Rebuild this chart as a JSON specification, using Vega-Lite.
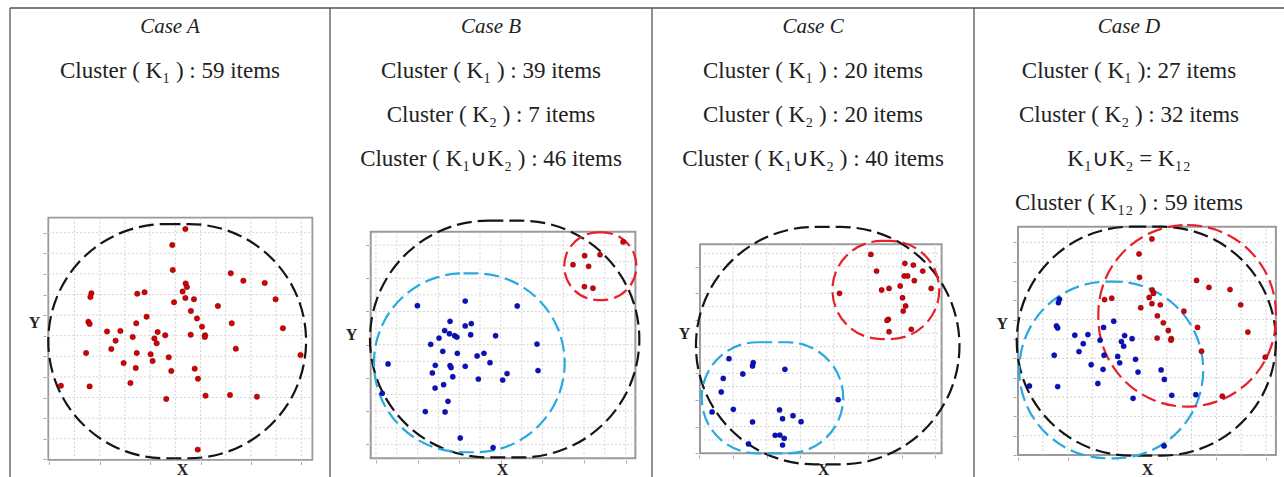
{
  "$schema": "https://vega.github.io/schema/vega-lite/v6.json",
  "background": "white",
  "padding": {"left": 9, "top": 7, "right": 0, "bottom": 0},
  "spacing": 0,
  "bounds": "flush",
  "config": {
    "view": {"stroke": null},
    "axis": {"grid": false, "labels": false, "domain": false, "ticks": true, "tickColor": "#a8a8a8", "tickSize": 3, "tickWidth": 1, "titleFont": "Liberation Serif", "titleFontSize": 16, "titleFontWeight": "bold", "titleColor": "#222222", "titlePadding": 0},
    "axisX": {"titleBaseline": "alphabetic", "titleAlign": "center"},
    "axisY": {"titleAngle": 0, "titleBaseline": "middle", "titleAlign": "center"}
  },
  "resolve": {"scale": {"fill": "independent", "stroke": "independent"}},
  "datasets": {
    "points": [
      {"panel":"A","cluster":"K1","x":5.40,"y":11.18},{"panel":"A","cluster":"K1","x":4.88,"y":10.40},{"panel":"A","cluster":"K1","x":4.90,"y":9.19},{"panel":"A","cluster":"K1","x":7.20,"y":9.03},{"panel":"A","cluster":"K1","x":7.70,"y":8.67},{"panel":"A","cluster":"K1","x":8.55,"y":8.56},{"panel":"A","cluster":"K1","x":5.41,"y":8.54},{"panel":"A","cluster":"K1","x":5.46,"y":8.36},{"panel":"A","cluster":"K1","x":5.29,"y":8.15},{"panel":"A","cluster":"K1","x":5.40,"y":7.83},
      {"panel":"A","cluster":"K1","x":5.74,"y":7.77},{"panel":"A","cluster":"K1","x":4.95,"y":7.62},{"panel":"A","cluster":"K1","x":1.67,"y":8.06},{"panel":"A","cluster":"K1","x":1.63,"y":7.88},{"panel":"A","cluster":"K1","x":3.49,"y":8.04},{"panel":"A","cluster":"K1","x":3.78,"y":8.11},{"panel":"A","cluster":"K1","x":6.69,"y":7.44},{"panel":"A","cluster":"K1","x":8.98,"y":7.77},{"panel":"A","cluster":"K1","x":5.62,"y":7.20},{"panel":"A","cluster":"K1","x":3.86,"y":6.92},
      {"panel":"A","cluster":"K1","x":1.55,"y":6.68},{"panel":"A","cluster":"K1","x":1.60,"y":6.57},{"panel":"A","cluster":"K1","x":5.86,"y":6.84},{"panel":"A","cluster":"K1","x":3.45,"y":6.60},{"panel":"A","cluster":"K1","x":7.24,"y":6.60},{"panel":"A","cluster":"K1","x":6.06,"y":6.44},{"panel":"A","cluster":"K1","x":9.27,"y":6.36},{"panel":"A","cluster":"K1","x":2.29,"y":6.20},{"panel":"A","cluster":"K1","x":2.82,"y":6.23},{"panel":"A","cluster":"K1","x":4.30,"y":6.18},
      {"panel":"A","cluster":"K1","x":5.61,"y":6.05},{"panel":"A","cluster":"K1","x":4.60,"y":6.02},{"panel":"A","cluster":"K1","x":6.18,"y":6.02},{"panel":"A","cluster":"K1","x":6.17,"y":5.94},{"panel":"A","cluster":"K1","x":3.31,"y":5.94},{"panel":"A","cluster":"K1","x":4.17,"y":5.87},{"panel":"A","cluster":"K1","x":2.63,"y":5.76},{"panel":"A","cluster":"K1","x":4.26,"y":5.63},{"panel":"A","cluster":"K1","x":2.46,"y":5.35},{"panel":"A","cluster":"K1","x":7.40,"y":5.37},
      {"panel":"A","cluster":"K1","x":1.46,"y":5.16},{"panel":"A","cluster":"K1","x":3.47,"y":5.16},{"panel":"A","cluster":"K1","x":4.02,"y":5.10},{"panel":"A","cluster":"K1","x":9.97,"y":5.06},{"panel":"A","cluster":"K1","x":4.74,"y":4.95},{"panel":"A","cluster":"K1","x":4.10,"y":4.77},{"panel":"A","cluster":"K1","x":2.95,"y":4.67},{"panel":"A","cluster":"K1","x":3.43,"y":4.43},{"panel":"A","cluster":"K1","x":5.77,"y":4.40},{"panel":"A","cluster":"K1","x":4.84,"y":4.29},
      {"panel":"A","cluster":"K1","x":5.90,"y":3.91},{"panel":"A","cluster":"K1","x":3.22,"y":3.70},{"panel":"A","cluster":"K1","x":0.46,"y":3.57},{"panel":"A","cluster":"K1","x":1.60,"y":3.54},{"panel":"A","cluster":"K1","x":6.20,"y":3.09},{"panel":"A","cluster":"K1","x":7.17,"y":3.12},{"panel":"A","cluster":"K1","x":8.24,"y":3.04},{"panel":"A","cluster":"K1","x":4.64,"y":2.93},{"panel":"A","cluster":"K1","x":5.89,"y":0.47},

      {"panel":"B","cluster":"K1","x":4.29,"y":8.63},{"panel":"B","cluster":"K1","x":1.99,"y":8.35},{"panel":"B","cluster":"K1","x":6.79,"y":8.33},{"panel":"B","cluster":"K1","x":3.56,"y":7.41},{"panel":"B","cluster":"K1","x":4.29,"y":7.13},{"panel":"B","cluster":"K1","x":4.58,"y":7.27},{"panel":"B","cluster":"K1","x":3.30,"y":6.85},{"panel":"B","cluster":"K1","x":3.53,"y":6.66},{"panel":"B","cluster":"K1","x":4.55,"y":6.60},{"panel":"B","cluster":"K1","x":3.78,"y":6.54},
      {"panel":"B","cluster":"K1","x":3.89,"y":6.46},{"panel":"B","cluster":"K1","x":3.03,"y":6.40},{"panel":"B","cluster":"K1","x":5.75,"y":6.54},{"panel":"B","cluster":"K1","x":2.63,"y":6.02},{"panel":"B","cluster":"K1","x":7.74,"y":6.04},{"panel":"B","cluster":"K1","x":3.21,"y":5.60},{"panel":"B","cluster":"K1","x":3.91,"y":5.48},{"panel":"B","cluster":"K1","x":4.86,"y":5.32},{"panel":"B","cluster":"K1","x":5.19,"y":5.48},{"panel":"B","cluster":"K1","x":5.48,"y":4.92},
      {"panel":"B","cluster":"K1","x":0.58,"y":4.84},{"panel":"B","cluster":"K1","x":2.85,"y":4.76},{"panel":"B","cluster":"K1","x":3.56,"y":4.74},{"panel":"B","cluster":"K1","x":3.61,"y":4.62},{"panel":"B","cluster":"K1","x":4.29,"y":4.70},{"panel":"B","cluster":"K1","x":2.71,"y":4.30},{"panel":"B","cluster":"K1","x":3.69,"y":4.07},{"panel":"B","cluster":"K1","x":6.30,"y":4.26},{"panel":"B","cluster":"K1","x":7.79,"y":4.44},{"panel":"B","cluster":"K1","x":4.92,"y":3.93},
      {"panel":"B","cluster":"K1","x":6.09,"y":3.87},{"panel":"B","cluster":"K1","x":2.84,"y":3.39},{"panel":"B","cluster":"K1","x":3.25,"y":3.59},{"panel":"B","cluster":"K1","x":3.46,"y":2.59},{"panel":"B","cluster":"K1","x":2.37,"y":1.97},{"panel":"B","cluster":"K1","x":3.32,"y":1.95},{"panel":"B","cluster":"K1","x":0.30,"y":3.07},{"panel":"B","cluster":"K1","x":4.05,"y":0.38},{"panel":"B","cluster":"K1","x":5.63,"y":-0.20},
      {"panel":"B","cluster":"K2","x":11.88,"y":12.19},{"panel":"B","cluster":"K2","x":10.03,"y":11.36},{"panel":"B","cluster":"K2","x":10.77,"y":11.42},{"panel":"B","cluster":"K2","x":9.47,"y":10.82},{"panel":"B","cluster":"K2","x":10.22,"y":10.72},{"panel":"B","cluster":"K2","x":10.02,"y":9.50},{"panel":"B","cluster":"K2","x":10.43,"y":9.40},

      {"panel":"C","cluster":"K2","x":5.09,"y":14.92},{"panel":"C","cluster":"K2","x":5.26,"y":13.67},{"panel":"C","cluster":"K2","x":6.10,"y":14.25},{"panel":"C","cluster":"K2","x":6.35,"y":14.12},{"panel":"C","cluster":"K2","x":6.63,"y":13.67},{"panel":"C","cluster":"K2","x":6.08,"y":13.30},{"panel":"C","cluster":"K2","x":6.18,"y":13.30},{"panel":"C","cluster":"K2","x":6.38,"y":12.95},{"panel":"C","cluster":"K2","x":5.96,"y":12.55},{"panel":"C","cluster":"K2","x":5.41,"y":12.25},
      {"panel":"C","cluster":"K2","x":5.63,"y":12.37},{"panel":"C","cluster":"K2","x":6.88,"y":12.37},{"panel":"C","cluster":"K2","x":4.16,"y":12.00},{"panel":"C","cluster":"K2","x":6.03,"y":11.67},{"panel":"C","cluster":"K2","x":6.12,"y":11.05},{"panel":"C","cluster":"K2","x":6.05,"y":10.67},{"panel":"C","cluster":"K2","x":5.61,"y":10.05},{"panel":"C","cluster":"K2","x":5.57,"y":9.97},{"panel":"C","cluster":"K2","x":5.63,"y":9.12},{"panel":"C","cluster":"K2","x":6.29,"y":9.30},
      {"panel":"C","cluster":"K1","x":0.88,"y":7.10},{"panel":"C","cluster":"K1","x":1.60,"y":6.80},{"panel":"C","cluster":"K1","x":1.58,"y":6.55},{"panel":"C","cluster":"K1","x":1.29,"y":5.95},{"panel":"C","cluster":"K1","x":2.54,"y":6.30},{"panel":"C","cluster":"K1","x":0.71,"y":5.62},{"panel":"C","cluster":"K1","x":0.65,"y":4.60},{"panel":"C","cluster":"K1","x":4.12,"y":4.02},{"panel":"C","cluster":"K1","x":1.01,"y":3.30},{"panel":"C","cluster":"K1","x":2.38,"y":3.25},
      {"panel":"C","cluster":"K1","x":0.38,"y":3.10},{"panel":"C","cluster":"K1","x":2.47,"y":2.60},{"panel":"C","cluster":"K1","x":2.78,"y":2.82},{"panel":"C","cluster":"K1","x":3.02,"y":2.37},{"panel":"C","cluster":"K1","x":1.58,"y":2.35},{"panel":"C","cluster":"K1","x":2.25,"y":1.35},{"panel":"C","cluster":"K1","x":2.39,"y":1.37},{"panel":"C","cluster":"K1","x":2.52,"y":1.12},{"panel":"C","cluster":"K1","x":1.46,"y":0.70},{"panel":"C","cluster":"K1","x":2.47,"y":0.62},

      {"panel":"D","cluster":"K1","x":5.40,"y":11.18},{"panel":"D","cluster":"K1","x":4.88,"y":10.40},{"panel":"D","cluster":"K1","x":4.90,"y":9.19},{"panel":"D","cluster":"K1","x":7.20,"y":9.03},{"panel":"D","cluster":"K1","x":7.70,"y":8.67},{"panel":"D","cluster":"K1","x":8.55,"y":8.56},{"panel":"D","cluster":"K1","x":5.41,"y":8.54},{"panel":"D","cluster":"K1","x":5.46,"y":8.36},{"panel":"D","cluster":"K1","x":5.29,"y":8.15},{"panel":"D","cluster":"K1","x":5.40,"y":7.83},
      {"panel":"D","cluster":"K1","x":5.74,"y":7.77},{"panel":"D","cluster":"K1","x":4.95,"y":7.62},{"panel":"D","cluster":"K2","x":1.67,"y":8.06},{"panel":"D","cluster":"K2","x":1.63,"y":7.88},{"panel":"D","cluster":"K1","x":3.49,"y":8.04},{"panel":"D","cluster":"K1","x":3.78,"y":8.11},{"panel":"D","cluster":"K1","x":6.69,"y":7.44},{"panel":"D","cluster":"K1","x":8.98,"y":7.77},{"panel":"D","cluster":"K1","x":5.62,"y":7.20},{"panel":"D","cluster":"K2","x":3.86,"y":6.92},
      {"panel":"D","cluster":"K2","x":1.55,"y":6.68},{"panel":"D","cluster":"K2","x":1.60,"y":6.57},{"panel":"D","cluster":"K1","x":5.86,"y":6.84},{"panel":"D","cluster":"K2","x":3.45,"y":6.60},{"panel":"D","cluster":"K1","x":7.24,"y":6.60},{"panel":"D","cluster":"K1","x":6.06,"y":6.44},{"panel":"D","cluster":"K1","x":9.27,"y":6.36},{"panel":"D","cluster":"K2","x":2.29,"y":6.20},{"panel":"D","cluster":"K2","x":2.82,"y":6.23},{"panel":"D","cluster":"K2","x":4.30,"y":6.18},
      {"panel":"D","cluster":"K1","x":5.61,"y":6.05},{"panel":"D","cluster":"K2","x":4.60,"y":6.02},{"panel":"D","cluster":"K1","x":6.18,"y":6.02},{"panel":"D","cluster":"K1","x":6.17,"y":5.94},{"panel":"D","cluster":"K2","x":3.31,"y":5.94},{"panel":"D","cluster":"K2","x":4.17,"y":5.87},{"panel":"D","cluster":"K2","x":2.63,"y":5.76},{"panel":"D","cluster":"K2","x":4.26,"y":5.63},{"panel":"D","cluster":"K2","x":2.46,"y":5.35},{"panel":"D","cluster":"K1","x":7.40,"y":5.37},
      {"panel":"D","cluster":"K2","x":1.46,"y":5.16},{"panel":"D","cluster":"K2","x":3.47,"y":5.16},{"panel":"D","cluster":"K2","x":4.02,"y":5.10},{"panel":"D","cluster":"K1","x":9.97,"y":5.06},{"panel":"D","cluster":"K2","x":4.74,"y":4.95},{"panel":"D","cluster":"K2","x":4.10,"y":4.77},{"panel":"D","cluster":"K2","x":2.95,"y":4.67},{"panel":"D","cluster":"K2","x":3.43,"y":4.43},{"panel":"D","cluster":"K2","x":5.77,"y":4.40},{"panel":"D","cluster":"K2","x":4.84,"y":4.29},
      {"panel":"D","cluster":"K2","x":5.90,"y":3.91},{"panel":"D","cluster":"K2","x":3.22,"y":3.70},{"panel":"D","cluster":"K2","x":0.46,"y":3.57},{"panel":"D","cluster":"K2","x":1.60,"y":3.54},{"panel":"D","cluster":"K2","x":6.20,"y":3.09},{"panel":"D","cluster":"K2","x":7.17,"y":3.12},{"panel":"D","cluster":"K1","x":8.24,"y":3.04},{"panel":"D","cluster":"K2","x":4.64,"y":2.93},{"panel":"D","cluster":"K2","x":5.89,"y":0.47}
    ],
    "ellipses": [
      {"panel":"A","cluster":"K1","x1":-0.04,"x2":10.19,"y1":0.05,"y2":11.42},
      {"panel":"B","cluster":"K1∪K2","x1":-0.29,"x2":12.66,"y1":-0.79,"y2":13.47},
      {"panel":"B","cluster":"K1","x1":-0.10,"x2":9.07,"y1":-0.48,"y2":10.30},
      {"panel":"B","cluster":"K2","x1":9.05,"x2":12.52,"y1":8.69,"y2":12.77},
      {"panel":"C","cluster":"K1∪K2","x1":-0.10,"x2":7.72,"y1":-0.83,"y2":16.98},
      {"panel":"C","cluster":"K1","x1":0.07,"x2":4.27,"y1":0.0,"y2":8.33},
      {"panel":"C","cluster":"K2","x1":3.95,"x2":7.12,"y1":8.57,"y2":15.93},
      {"panel":"D","cluster":"K12","x1":-0.05,"x2":10.40,"y1":-0.03,"y2":11.81},
      {"panel":"D","cluster":"K2","x1":0.05,"x2":7.47,"y1":-0.17,"y2":8.97},
      {"panel":"D","cluster":"K1","x1":3.24,"x2":10.40,"y1":2.50,"y2":11.90}
    ],
    "labels": [
      {"panel":"A","line":0,"label":"Case A"},
      {"panel":"A","line":1,"label":"Cluster ( K₁ ) : 59 items"},
      {"panel":"B","line":0,"label":"Case B"},
      {"panel":"B","line":1,"label":"Cluster ( K₁ ) : 39 items"},
      {"panel":"B","line":2,"label":"Cluster ( K₂ ) : 7 items"},
      {"panel":"B","line":3,"label":"Cluster ( K₁∪K₂ ) : 46 items"},
      {"panel":"C","line":0,"label":"Case C"},
      {"panel":"C","line":1,"label":"Cluster ( K₁ ) : 20 items"},
      {"panel":"C","line":2,"label":"Cluster ( K₂ ) : 20 items"},
      {"panel":"C","line":3,"label":"Cluster ( K₁∪K₂ ) : 40 items"},
      {"panel":"D","line":0,"label":"Case D"},
      {"panel":"D","line":1,"label":"Cluster ( K₁ ): 27 items"},
      {"panel":"D","line":2,"label":"Cluster ( K₂ ) : 32 items"},
      {"panel":"D","line":3,"label":"K₁∪K₂ = K₁₂"},
      {"panel":"D","line":4,"label":"Cluster ( K₁₂ ) : 59 items"}
    ],
    "grid": [
      {"panel":"A","dir":"x","v":1},{"panel":"A","dir":"x","v":2},{"panel":"A","dir":"x","v":3},{"panel":"A","dir":"x","v":4},{"panel":"A","dir":"x","v":5},{"panel":"A","dir":"x","v":6},{"panel":"A","dir":"x","v":7},{"panel":"A","dir":"x","v":8},{"panel":"A","dir":"x","v":9},{"panel":"A","dir":"x","v":10},
      {"panel":"A","dir":"y","v":1},{"panel":"A","dir":"y","v":2},{"panel":"A","dir":"y","v":3},{"panel":"A","dir":"y","v":4},{"panel":"A","dir":"y","v":5},{"panel":"A","dir":"y","v":6},{"panel":"A","dir":"y","v":7},{"panel":"A","dir":"y","v":8},{"panel":"A","dir":"y","v":9},{"panel":"A","dir":"y","v":10},{"panel":"A","dir":"y","v":11},
      {"panel":"B","dir":"x","v":0},{"panel":"B","dir":"x","v":1},{"panel":"B","dir":"x","v":2},{"panel":"B","dir":"x","v":3},{"panel":"B","dir":"x","v":4},{"panel":"B","dir":"x","v":5},{"panel":"B","dir":"x","v":6},{"panel":"B","dir":"x","v":7},{"panel":"B","dir":"x","v":8},{"panel":"B","dir":"x","v":9},{"panel":"B","dir":"x","v":10},{"panel":"B","dir":"x","v":11},{"panel":"B","dir":"x","v":12},
      {"panel":"B","dir":"y","v":0},{"panel":"B","dir":"y","v":1},{"panel":"B","dir":"y","v":2},{"panel":"B","dir":"y","v":3},{"panel":"B","dir":"y","v":4},{"panel":"B","dir":"y","v":5},{"panel":"B","dir":"y","v":6},{"panel":"B","dir":"y","v":7},{"panel":"B","dir":"y","v":8},{"panel":"B","dir":"y","v":9},{"panel":"B","dir":"y","v":10},{"panel":"B","dir":"y","v":11},{"panel":"B","dir":"y","v":12},
      {"panel":"C","dir":"x","v":1},{"panel":"C","dir":"x","v":2},{"panel":"C","dir":"x","v":3},{"panel":"C","dir":"x","v":4},{"panel":"C","dir":"x","v":5},{"panel":"C","dir":"x","v":6},{"panel":"C","dir":"x","v":7},
      {"panel":"C","dir":"y","v":1},{"panel":"C","dir":"y","v":2},{"panel":"C","dir":"y","v":3},{"panel":"C","dir":"y","v":4},{"panel":"C","dir":"y","v":5},{"panel":"C","dir":"y","v":6},{"panel":"C","dir":"y","v":7},{"panel":"C","dir":"y","v":8},{"panel":"C","dir":"y","v":9},{"panel":"C","dir":"y","v":10},{"panel":"C","dir":"y","v":11},{"panel":"C","dir":"y","v":12},{"panel":"C","dir":"y","v":13},{"panel":"C","dir":"y","v":14},{"panel":"C","dir":"y","v":15},
      {"panel":"D","dir":"x","v":1},{"panel":"D","dir":"x","v":2},{"panel":"D","dir":"x","v":3},{"panel":"D","dir":"x","v":4},{"panel":"D","dir":"x","v":5},{"panel":"D","dir":"x","v":6},{"panel":"D","dir":"x","v":7},{"panel":"D","dir":"x","v":8},{"panel":"D","dir":"x","v":9},{"panel":"D","dir":"x","v":10},
      {"panel":"D","dir":"y","v":1},{"panel":"D","dir":"y","v":2},{"panel":"D","dir":"y","v":3},{"panel":"D","dir":"y","v":4},{"panel":"D","dir":"y","v":5},{"panel":"D","dir":"y","v":6},{"panel":"D","dir":"y","v":7},{"panel":"D","dir":"y","v":8},{"panel":"D","dir":"y","v":9},{"panel":"D","dir":"y","v":10},{"panel":"D","dir":"y","v":11}
    ]
  },
  "hconcat": [
    {
      "width": 320, "height": 469,
      "resolve": {"scale": {"y": "independent"}},
      "layer": [
        {"layer": [
          {"data": {"values": [{}]}, "mark": {"type": "rect", "filled": false, "color": "#9a9a9a", "strokeWidth": 1.8},
           "encoding": {
             "x": {"datum": -0.04, "type": "quantitative", "scale": {"domain": [-1.560, 11.139], "nice": false, "zero": false}, "axis": {"values": [0,1,2,3,4,5,6,7,8,9,10], "offset": -15.5, "title": "X", "titleX": 172, "titleY": 12.5}},
             "x2": {"datum": 10.44},
             "y": {"datum": -0.03, "type": "quantitative", "scale": {"domain": [-0.859, 21.908], "nice": false, "zero": false}, "axis": {"values": [0,1,2,3,4,5,6,7,8,9,10,11], "offset": -36, "title": "Y", "titleX": -12, "titleY": 314}},
             "y2": {"datum": 11.73}}},
          {"data": {"name": "grid"}, "transform": [{"filter": "datum.panel === 'A' && datum.dir === 'x'"}], "mark": {"type": "rule", "color": "#d2d2d2", "strokeWidth": 1, "strokeDash": [2, 2]},
           "encoding": {"x": {"field": "v", "type": "quantitative", "title": "X"}, "y": {"datum": -0.03, "type": "quantitative", "title": "Y"}, "y2": {"datum": 11.73}}},
          {"data": {"name": "grid"}, "transform": [{"filter": "datum.panel === 'A' && datum.dir === 'y'"}], "mark": {"type": "rule", "color": "#d2d2d2", "strokeWidth": 1, "strokeDash": [2, 2]},
           "encoding": {"y": {"field": "v", "type": "quantitative", "title": "Y"}, "x": {"datum": -0.04, "type": "quantitative", "title": "X"}, "x2": {"datum": 10.44}}},
          {"data": {"name": "ellipses"}, "transform": [{"filter": "datum.panel === 'A'"}], "mark": {"type": "rect", "filled": false, "cornerRadius": 9999, "strokeWidth": 2.2, "strokeDash": [15, 6]},
           "encoding": {"x": {"field": "x1", "type": "quantitative", "title": "X"}, "x2": {"field": "x2"}, "y": {"field": "y1", "type": "quantitative", "title": "Y"}, "y2": {"field": "y2"},
                        "stroke": {"field": "cluster", "type": "nominal", "scale": {"domain": ["K1"], "range": ["#151515"]}, "legend": null}}},
          {"data": {"name": "points"}, "transform": [{"filter": "datum.panel === 'A'"}], "mark": {"type": "point", "filled": true, "size": 30, "opacity": 1, "stroke": "rgba(60,0,0,0.6)", "strokeWidth": 0.6},
           "encoding": {
             "x": {"field": "x", "type": "quantitative", "title": "X"},
             "y": {"field": "y", "type": "quantitative", "title": "Y"},
             "fill": {"field": "cluster", "type": "nominal", "scale": {"domain": ["K1"], "range": ["#d80000"]}, "legend": null}}},
          {"data": {"values": [{}]}, "mark": {"type": "rule", "color": "#555555", "strokeWidth": 1.3}, "encoding": {"x": {"datum": -1.560, "type": "quantitative", "title": "X"}}},
          {"data": {"values": [{}]}, "mark": {"type": "rule", "color": "#555555", "strokeWidth": 1.3}, "encoding": {"y": {"datum": 21.908, "type": "quantitative", "title": "Y"}}}
        ]},
        {"data": {"name": "labels"}, "transform": [{"filter": "datum.panel === 'A'"}],
         "layer": [
           {"transform": [{"filter": "datum.line === 0"}], "mark": {"type": "text", "font": "Liberation Serif", "fontStyle": "italic", "fontSize": 21, "color": "#222222", "baseline": "middle"},
            "encoding": {"y": {"field": "line", "type": "quantitative", "scale": {"domain": [0, 4], "range": [19, 195]}, "axis": null}, "text": {"field": "label"}}},
           {"transform": [{"filter": "datum.line > 0"}], "mark": {"type": "text", "font": "Liberation Serif", "fontSize": 23, "color": "#222222", "baseline": "middle"},
            "encoding": {"y": {"field": "line", "type": "quantitative", "axis": null}, "text": {"field": "label"}}}
         ]}
      ]
    },
    {
      "width": 322, "height": 469,
      "resolve": {"scale": {"y": "independent"}},
      "layer": [
        {"layer": [
          {"data": {"values": [{}]}, "mark": {"type": "rect", "filled": false, "color": "#9a9a9a", "strokeWidth": 2},
           "encoding": {
             "x": {"datum": -0.255, "type": "quantitative", "scale": {"domain": [-2.212, 13.269], "nice": false, "zero": false}, "axis": {"values": [0,1,2,3,4,5,6,7,8,9,10,11,12], "offset": -17, "title": "X", "titleX": 172, "titleY": 14}},
             "x2": {"datum": 12.47},
             "y": {"datum": -0.84, "type": "quantitative", "scale": {"domain": [-1.970, 26.283], "nice": false, "zero": false}, "axis": {"values": [0,1,2,3,4,5,6,7,8,9,10,11,12], "offset": -38.5, "title": "Y", "titleX": -17.5, "titleY": 326}},
             "y2": {"datum": 12.81}}},
          {"data": {"name": "grid"}, "transform": [{"filter": "datum.panel === 'B' && datum.dir === 'x'"}], "mark": {"type": "rule", "color": "#d2d2d2", "strokeWidth": 1, "strokeDash": [2, 2]},
           "encoding": {"x": {"field": "v", "type": "quantitative", "title": "X"}, "y": {"datum": -0.84, "type": "quantitative", "title": "Y"}, "y2": {"datum": 12.81}}},
          {"data": {"name": "grid"}, "transform": [{"filter": "datum.panel === 'B' && datum.dir === 'y'"}], "mark": {"type": "rule", "color": "#d2d2d2", "strokeWidth": 1, "strokeDash": [2, 2]},
           "encoding": {"y": {"field": "v", "type": "quantitative", "title": "Y"}, "x": {"datum": -0.255, "type": "quantitative", "title": "X"}, "x2": {"datum": 12.47}}},
          {"data": {"name": "ellipses"}, "transform": [{"filter": "datum.panel === 'B'"}], "mark": {"type": "rect", "filled": false, "cornerRadius": 9999, "strokeWidth": 2.2, "strokeDash": [15, 6]},
           "encoding": {"x": {"field": "x1", "type": "quantitative", "title": "X"}, "x2": {"field": "x2"}, "y": {"field": "y1", "type": "quantitative", "title": "Y"}, "y2": {"field": "y2"},
                        "stroke": {"field": "cluster", "type": "nominal", "scale": {"domain": ["K1", "K2", "K1∪K2"], "range": ["#2aa8e0", "#e8202a", "#151515"]}, "legend": null}}},
          {"data": {"name": "points"}, "transform": [{"filter": "datum.panel === 'B'"}], "mark": {"type": "point", "filled": true, "size": 28, "opacity": 1, "stroke": "rgba(0,0,40,0.5)", "strokeWidth": 0.6},
           "encoding": {
             "x": {"field": "x", "type": "quantitative", "title": "X"},
             "y": {"field": "y", "type": "quantitative", "title": "Y"},
             "fill": {"field": "cluster", "type": "nominal", "scale": {"domain": ["K1", "K2"], "range": ["#0a10c8", "#d80000"]}, "legend": null}}},
          {"data": {"values": [{}]}, "mark": {"type": "rule", "color": "#555555", "strokeWidth": 1.3}, "encoding": {"x": {"datum": -2.212, "type": "quantitative", "title": "X"}}},
          {"data": {"values": [{}]}, "mark": {"type": "rule", "color": "#555555", "strokeWidth": 1.3}, "encoding": {"y": {"datum": 26.283, "type": "quantitative", "title": "Y"}}}
        ]},
        {"data": {"name": "labels"}, "transform": [{"filter": "datum.panel === 'B'"}],
         "layer": [
           {"transform": [{"filter": "datum.line === 0"}], "mark": {"type": "text", "font": "Liberation Serif", "fontStyle": "italic", "fontSize": 21, "color": "#222222", "baseline": "middle"},
            "encoding": {"y": {"field": "line", "type": "quantitative", "scale": {"domain": [0, 4], "range": [19, 195]}, "axis": null}, "text": {"field": "label"}}},
           {"transform": [{"filter": "datum.line > 0"}], "mark": {"type": "text", "font": "Liberation Serif", "fontSize": 23, "color": "#222222", "baseline": "middle"},
            "encoding": {"y": {"field": "line", "type": "quantitative", "axis": null}, "text": {"field": "label"}}}
         ]}
      ]
    },
    {
      "width": 322, "height": 469,
      "resolve": {"scale": {"y": "independent"}},
      "layer": [
        {"layer": [
          {"data": {"values": [{}]}, "mark": {"type": "rect", "filled": false, "color": "#9a9a9a", "strokeWidth": 2},
           "encoding": {
             "x": {"datum": 0.02, "type": "quantitative", "scale": {"domain": [-1.404, 8.151], "nice": false, "zero": false}, "axis": {"values": [0,1,2,3,4,5,6,7], "offset": -22, "title": "X", "titleX": 171, "titleY": 19}},
             "x2": {"datum": 7.19},
             "y": {"datum": 0, "type": "quantitative", "scale": {"domain": [-1.778, 33.406], "nice": false, "zero": false}, "axis": {"values": [0,1,2,3,4,5,6,7,8,9,10,11,12,13,14,15], "offset": -46, "title": "Y", "titleX": -14, "titleY": 325}},
             "y2": {"datum": 15.68}}},
          {"data": {"name": "grid"}, "transform": [{"filter": "datum.panel === 'C' && datum.dir === 'x'"}], "mark": {"type": "rule", "color": "#d2d2d2", "strokeWidth": 1, "strokeDash": [2, 2]},
           "encoding": {"x": {"field": "v", "type": "quantitative", "title": "X"}, "y": {"datum": 0, "type": "quantitative", "title": "Y"}, "y2": {"datum": 15.68}}},
          {"data": {"name": "grid"}, "transform": [{"filter": "datum.panel === 'C' && datum.dir === 'y'"}], "mark": {"type": "rule", "color": "#d2d2d2", "strokeWidth": 1, "strokeDash": [2, 2]},
           "encoding": {"y": {"field": "v", "type": "quantitative", "title": "Y"}, "x": {"datum": 0.02, "type": "quantitative", "title": "X"}, "x2": {"datum": 7.19}}},
          {"data": {"name": "ellipses"}, "transform": [{"filter": "datum.panel === 'C'"}], "mark": {"type": "rect", "filled": false, "cornerRadius": 9999, "strokeWidth": 2.2, "strokeDash": [15, 6]},
           "encoding": {"x": {"field": "x1", "type": "quantitative", "title": "X"}, "x2": {"field": "x2"}, "y": {"field": "y1", "type": "quantitative", "title": "Y"}, "y2": {"field": "y2"},
                        "stroke": {"field": "cluster", "type": "nominal", "scale": {"domain": ["K1", "K2", "K1∪K2"], "range": ["#2aa8e0", "#e8202a", "#151515"]}, "legend": null}}},
          {"data": {"name": "points"}, "transform": [{"filter": "datum.panel === 'C'"}], "mark": {"type": "point", "filled": true, "size": 28, "opacity": 1, "stroke": "rgba(0,0,40,0.5)", "strokeWidth": 0.6},
           "encoding": {
             "x": {"field": "x", "type": "quantitative", "title": "X"},
             "y": {"field": "y", "type": "quantitative", "title": "Y"},
             "fill": {"field": "cluster", "type": "nominal", "scale": {"domain": ["K1", "K2"], "range": ["#0a10c8", "#d80000"]}, "legend": null}}},
          {"data": {"values": [{}]}, "mark": {"type": "rule", "color": "#555555", "strokeWidth": 1.3}, "encoding": {"x": {"datum": -1.404, "type": "quantitative", "title": "X"}}},
          {"data": {"values": [{}]}, "mark": {"type": "rule", "color": "#555555", "strokeWidth": 1.3}, "encoding": {"y": {"datum": 33.406, "type": "quantitative", "title": "Y"}}}
        ]},
        {"data": {"name": "labels"}, "transform": [{"filter": "datum.panel === 'C'"}],
         "layer": [
           {"transform": [{"filter": "datum.line === 0"}], "mark": {"type": "text", "font": "Liberation Serif", "fontStyle": "italic", "fontSize": 21, "color": "#222222", "baseline": "middle"},
            "encoding": {"y": {"field": "line", "type": "quantitative", "scale": {"domain": [0, 4], "range": [19, 195]}, "axis": null}, "text": {"field": "label"}}},
           {"transform": [{"filter": "datum.line > 0"}], "mark": {"type": "text", "font": "Liberation Serif", "fontSize": 23, "color": "#222222", "baseline": "middle"},
            "encoding": {"y": {"field": "line", "type": "quantitative", "axis": null}, "text": {"field": "label"}}}
         ]}
      ]
    },
    {
      "width": 310, "height": 469,
      "resolve": {"scale": {"y": "independent"}},
      "layer": [
        {"layer": [
          {"data": {"values": [{}]}, "mark": {"type": "rect", "filled": false, "color": "#9a9a9a", "strokeWidth": 2},
           "encoding": {
             "x": {"datum": 0, "type": "quantitative", "scale": {"domain": [-1.774, 10.726], "nice": false, "zero": false}, "axis": {"values": [0,1,2,3,4,5,6,7,8,9,10], "offset": -20, "title": "X", "titleX": 173, "titleY": 17}},
             "x2": {"datum": 10.40},
             "y": {"datum": 0, "type": "quantitative", "scale": {"domain": [-1.138, 23.125], "nice": false, "zero": false}, "axis": {"values": [0,1,2,3,4,5,6,7,8,9,10,11], "offset": -42, "title": "Y", "titleX": -14.3, "titleY": 315}},
             "y2": {"datum": 11.81}}},
          {"data": {"name": "grid"}, "transform": [{"filter": "datum.panel === 'D' && datum.dir === 'x'"}], "mark": {"type": "rule", "color": "#d2d2d2", "strokeWidth": 1, "strokeDash": [2, 2]},
           "encoding": {"x": {"field": "v", "type": "quantitative", "title": "X"}, "y": {"datum": 0, "type": "quantitative", "title": "Y"}, "y2": {"datum": 11.81}}},
          {"data": {"name": "grid"}, "transform": [{"filter": "datum.panel === 'D' && datum.dir === 'y'"}], "mark": {"type": "rule", "color": "#d2d2d2", "strokeWidth": 1, "strokeDash": [2, 2]},
           "encoding": {"y": {"field": "v", "type": "quantitative", "title": "Y"}, "x": {"datum": 0, "type": "quantitative", "title": "X"}, "x2": {"datum": 10.40}}},
          {"data": {"name": "ellipses"}, "transform": [{"filter": "datum.panel === 'D'"}], "mark": {"type": "rect", "filled": false, "cornerRadius": 9999, "strokeWidth": 2.2, "strokeDash": [15, 6]},
           "encoding": {"x": {"field": "x1", "type": "quantitative", "title": "X"}, "x2": {"field": "x2"}, "y": {"field": "y1", "type": "quantitative", "title": "Y"}, "y2": {"field": "y2"},
                        "stroke": {"field": "cluster", "type": "nominal", "scale": {"domain": ["K1", "K2", "K12"], "range": ["#e8202a", "#2aa8e0", "#151515"]}, "legend": null}}},
          {"data": {"name": "points"}, "transform": [{"filter": "datum.panel === 'D'"}], "mark": {"type": "point", "filled": true, "size": 28, "opacity": 1, "stroke": "rgba(0,0,40,0.5)", "strokeWidth": 0.6},
           "encoding": {
             "x": {"field": "x", "type": "quantitative", "title": "X"},
             "y": {"field": "y", "type": "quantitative", "title": "Y"},
             "fill": {"field": "cluster", "type": "nominal", "scale": {"domain": ["K1", "K2"], "range": ["#d80000", "#0a10c8"]}, "legend": null}}},
          {"data": {"values": [{}]}, "mark": {"type": "rule", "color": "#555555", "strokeWidth": 1.3}, "encoding": {"x": {"datum": -1.774, "type": "quantitative", "title": "X"}}},
          {"data": {"values": [{}]}, "mark": {"type": "rule", "color": "#555555", "strokeWidth": 1.3}, "encoding": {"y": {"datum": 23.125, "type": "quantitative", "title": "Y"}}}
        ]},
        {"data": {"name": "labels"}, "transform": [{"filter": "datum.panel === 'D'"}],
         "layer": [
           {"transform": [{"filter": "datum.line === 0"}], "mark": {"type": "text", "font": "Liberation Serif", "fontStyle": "italic", "fontSize": 21, "color": "#222222", "baseline": "middle"},
            "encoding": {"y": {"field": "line", "type": "quantitative", "scale": {"domain": [0, 4], "range": [19, 195]}, "axis": null}, "text": {"field": "label"}}},
           {"transform": [{"filter": "datum.line > 0"}], "mark": {"type": "text", "font": "Liberation Serif", "fontSize": 23, "color": "#222222", "baseline": "middle"},
            "encoding": {"y": {"field": "line", "type": "quantitative", "axis": null}, "text": {"field": "label"}}}
         ]}
      ]
    }
  ]
}
